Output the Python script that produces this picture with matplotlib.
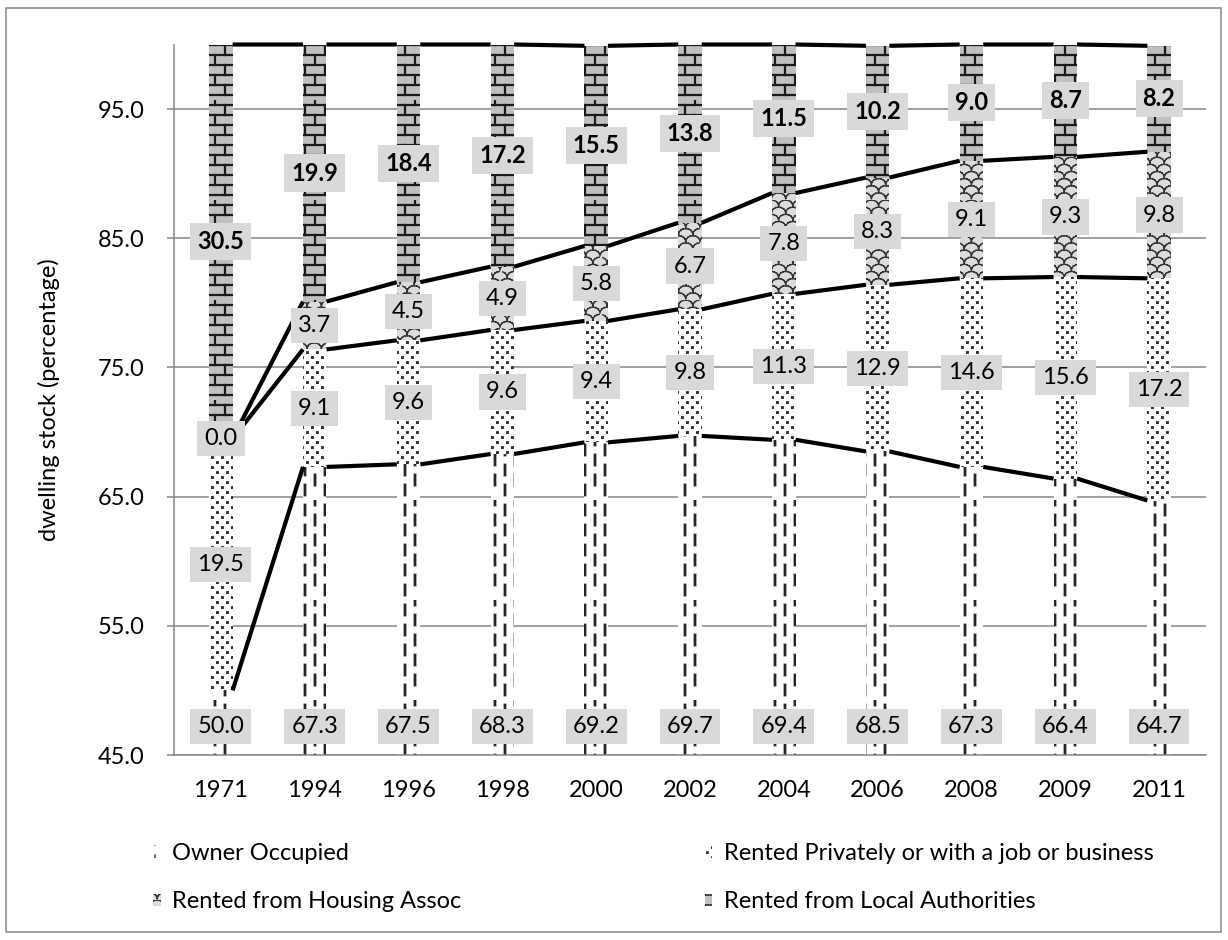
import warnings

import matplotlib
matplotlib.use("Agg")
import matplotlib.pyplot as plt
import matplotlib.hatch as mhatch
import numpy as np
from matplotlib.patches import Rectangle
from matplotlib.path import Path

warnings.filterwarnings("ignore", message=".*hatch must consist.*")

years = ['1971', '1994', '1996', '1998', '2000', '2002', '2004', '2006', '2008', '2009', '2011']
owner_occupied = [50.0, 67.3, 67.5, 68.3, 69.2, 69.7, 69.4, 68.5, 67.3, 66.4, 64.7]
rented_private = [19.5, 9.1, 9.6, 9.6, 9.4, 9.8, 11.3, 12.9, 14.6, 15.6, 17.2]
housing_assoc = [0.0, 3.7, 4.5, 4.9, 5.8, 6.7, 7.8, 8.3, 9.1, 9.3, 9.8]
local_authority = [30.5, 19.9, 18.4, 17.2, 15.5, 13.8, 11.5, 10.2, 9.0, 8.7, 8.2]
series_names = ['Owner Occupied', 'Rented Privately or with a job or business',
                'Rented from Housing Assoc', 'Rented from Local Authorities']
y_ticks = [45, 55, 65, 75, 85, 95]


# --- extra fill patterns (one hatch tile = 1 inch) ------------------------
# Agg fills hatch paths as well as stroking them, so curves are stored as
# separate two-point segments; only the dots are meant to come out solid.
class SegmentHatch(mhatch.HatchPatternBase):
    """Base for patterns built once as polylines in the unit tile."""
    char = None
    closed = False

    def __init__(self, hatch, density):
        n = hatch.count(self.char)
        pts, cds = [], []
        if n:
            for line in self.polylines(n):
                if self.closed:
                    pts += line
                    cds += [Path.MOVETO] + [Path.LINETO] * (len(line) - 1)
                else:
                    for a, b in zip(line[:-1], line[1:]):
                        pts += [a, b]
                        cds += [Path.MOVETO, Path.LINETO]
        self._pts, self._cds = pts, cds
        self.num_vertices = len(pts)

    def set_vertices_and_codes(self, vertices, codes):
        vertices[:] = self._pts
        codes[:] = self._cds


class BrickHatch(SegmentHatch):
    """'b' : staggered brick courses."""
    char = 'b'

    def polylines(self, n):
        rows = 10 * n
        step = 1.0 / rows
        out = []
        for r in range(rows):
            y0 = (r + 0.5) * step
            out.append([(0.0, y0), (1.0, y0)])
            shift = 0.5 * (r % 2)
            for k in range(rows // 2):
                xv = (k + 0.25 + shift) * 2 * step
                out.append([(xv, y0), (xv, y0 + step)])
        return out


class DotHatch(SegmentHatch):
    """'d' : small staggered dots."""
    char = 'd'
    closed = True

    def polylines(self, n):
        rows = 20 * n
        cols = rows // 2
        dy, dx, s = 1.0 / rows, 1.0 / cols, 0.006
        out = []
        for r in range(rows):
            y0 = (r + 0.5) * dy
            off = 0.5 * dx * (r % 2)
            for c in range(cols):
                x0 = (c + 0.25) * dx + off
                out.append([(x0 - s, y0 - s), (x0 + s, y0 - s), (x0 + s, y0 + s),
                            (x0 - s, y0 + s), (x0 - s, y0 - s)])
        return out


class DashHatch(SegmentHatch):
    """'k' : columns of vertical dashes, every other column offset."""
    char = 'k'

    def polylines(self, n):
        cols, dashes = 10 * n, 5
        period = 1.0 / dashes
        out = []
        for c in range(cols):
            xv = (c + 0.5) / cols
            off = 0.5 * period * (c % 2)
            for d in range(dashes):
                y0 = d * period + off + 0.25 * period
                out.append([(xv, y0), (xv, y0 + 0.5 * period)])
        return out


class ShingleHatch(SegmentHatch):
    """'s' : overlapping arcs like roof shingles."""
    char = 's'

    def polylines(self, n):
        rows, cols = 14 * n, 7 * n
        dy, dx = 1.0 / rows, 1.0 / cols
        rad = dx / 2
        t = np.linspace(0, np.pi, 9)
        out = []
        for r in range(rows):
            cy = (r + 0.2) * dy
            off = 0.5 * dx * (r % 2)
            for c in range(cols):
                cx = (c + 0.5) * dx + off
                for shift in (0.0, -1.0):
                    xs = cx + shift + rad * np.cos(t)
                    ys = cy + 0.8 * rad * np.sin(t)
                    keep = (xs >= 0) & (xs <= 1)
                    if keep.sum() > 1:
                        out.append(list(zip(xs[keep], ys[keep])))
        return out


mhatch._hatch_types.extend([BrickHatch, DotHatch, DashHatch, ShingleHatch])

# face colour, pattern colour, hatch, hatch line width
series_styles = [
    ('white', '#262626', 'k', 2.0),
    ('white', '#303030', 'd', 1.2),
    ('#dcdcdc', '#333333', 's', 1.0),
    ('#c0c0c0', '#1a1a1a', 'b', 1.6),
]

plt.rcParams['font.family'] = ['Lato', 'DejaVu Sans']

fig = plt.figure(figsize=(12.28, 9.40), dpi=100)
ax = fig.add_axes([174 / 1228, 185 / 940, 1032 / 1228, 710.5 / 940])

BAR_W = 0.25
x = np.arange(len(years))
bottom = np.zeros(len(years))
levels = []
handles = []
label_min = 47.2

for idx, (vals, name, (face, ink, hatch, hlw)) in enumerate(
        zip([owner_occupied, rented_private, housing_assoc, local_authority],
            series_names, series_styles)):
    vals = np.array(vals)
    with plt.rc_context({'hatch.linewidth': hlw}):
        bars = ax.bar(x, vals, BAR_W, bottom=bottom, color=face, edgecolor=ink,
                      linewidth=0, hatch=hatch, label=name, zorder=2)
    handles.append(bars)
    mids = bottom + vals / 2
    for i, v in enumerate(vals):
        ax.text(i, max(mids[i], label_min), f'{v:.1f}', ha='center', va='center',
                fontsize=17, fontweight='bold' if idx == 3 else 'normal',
                bbox=dict(boxstyle='square,pad=0.3', fc='#d9d9d9', ec='none'),
                zorder=5)
    bottom = bottom + vals
    levels.append(bottom.copy())

# series lines joining the stacked tops of neighbouring bars
for level in levels:
    xs, ys = [], []
    for i in range(len(years) - 1):
        xs += [i + BAR_W / 2, i + 1 - BAR_W / 2, np.nan]
        ys += [level[i], level[i + 1], np.nan]
    ax.plot(xs, ys, color='black', lw=3, solid_capstyle='butt', zorder=3,
            clip_on=False)

ax.set_xlim(-0.5, len(years) - 0.5)
ax.set_ylim(45, 100)
ax.set_xticks(x)
ax.set_xticklabels(years)
ax.set_yticks(y_ticks)
ax.set_yticklabels([f'{t:.1f}' for t in y_ticks])
ax.tick_params(axis='x', length=0, pad=18, labelsize=17)
ax.tick_params(axis='y', length=5, width=1.1, color='#868686', pad=16, labelsize=17)
ax.grid(axis='y', color='#868686', lw=1.1, zorder=0)
ax.set_axisbelow(True)
for side in ['top', 'right']:
    ax.spines[side].set_visible(False)
for side in ['left', 'bottom']:
    ax.spines[side].set_color('#868686')
    ax.spines[side].set_linewidth(1.1)

ax.set_ylabel('dwelling stock (percentage)', fontsize=17)
ax.yaxis.set_label_coords(-0.110, 0.5)

order = [0, 2, 1, 3]
fig.legend([handles[k] for k in order], [series_names[k] for k in order],
           ncol=2, loc='upper left', bbox_to_anchor=(153 / 1228, 97 / 940),
           frameon=False, fontsize=17, borderpad=0, borderaxespad=0,
           handlelength=0.32, handleheight=0.42, handletextpad=0.5,
           columnspacing=10.3, labelspacing=1.15)

fig.patches.append(Rectangle((6 / 1228, 8 / 940), 1215 / 1228, 924 / 940,
                             transform=fig.transFigure, fill=False,
                             edgecolor='#888888', lw=1.1))

fig.savefig('out.png', dpi=100)
